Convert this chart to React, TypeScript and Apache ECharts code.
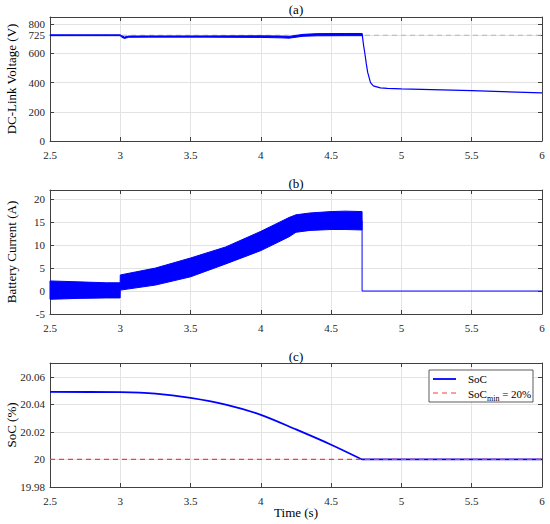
import React, { useEffect, useRef } from "react";
import * as echarts from "echarts";

// ---- data ----
const xTicks = [2.5, 3, 3.5, 4, 4.5, 5, 5.5, 6];
const voltTicks = [0, 200, 400, 600, 725, 800];
const currTicks = [-5, 0, 5, 10, 15, 20];
const socTicks = [19.98, 20, 20.02, 20.04, 20.06];

// (a) DC-link voltage: ripple band before load loss, then decay
const vBandT = [2.5, 3.0, 3.01, 3.03, 3.06, 3.2, 3.6, 4.0, 4.15, 4.2, 4.3, 4.4, 4.6, 4.72];
const vBandUp = [728, 728, 722, 713, 719, 720, 720, 721, 719, 717, 731, 736, 737, 737];
const vBandLo = [722, 722, 711, 703, 711, 712, 712, 710, 707, 705, 718, 721, 722, 722];
const vDropT = [4.72, 4.725, 4.73, 4.74, 4.75, 4.76, 4.78, 4.8, 4.85, 4.9, 5.0, 5.5, 6.0];
const vDrop = [736, 700, 660, 600, 530, 470, 400, 378, 364, 361, 357, 345, 330];
const vRef = 725;

// (b) battery current envelope
const iBandT = [2.5, 2.7, 2.9, 2.999, 3.0, 3.25, 3.5, 3.75, 4.0, 4.1, 4.2, 4.25, 4.35, 4.5, 4.6, 4.72];
const iBandUp = [2.2, 2.0, 1.8, 1.8, 3.5, 5.0, 7.2, 9.6, 13.0, 14.5, 16.0, 16.6, 17.0, 17.3, 17.4, 17.3];
const iBandLo = [-1.8, -1.6, -1.5, -1.5, 0.2, 1.3, 3.1, 5.9, 8.8, 10.3, 11.8, 12.8, 13.2, 13.4, 13.4, 13.3];
const iOffT = [4.72, 4.72, 6.0];
const iOff = [15.3, 0, 0];

// (c) state of charge: discharging part, then held at the minimum
const socT = [2.5, 3.0, 3.25, 3.5, 3.75, 4.0, 4.25, 4.5, 4.72];
const soc = [20.049, 20.0488, 20.0478, 20.0447, 20.0398, 20.0324, 20.0218, 20.0107, 20.0];
const socHoldT = [4.72, 6.0];
const socHold = [20.0, 20.0];
const socMin = 20;

const FONT = '"Liberation Serif", "Times New Roman", serif';
const AXIS = "#404040";
const GRIDC = "#e3e3e3";
const BLUE = "#0000ff";
const RED = "#ff3b3b";

const zip = (a: number[], b: number[]) => a.map((v, i) => [v, b[i]]);

const gridTops = [17, 190, 363];
const GH = 124;

function makeAxes() {
  const xAxis: any[] = [];
  const yAxis: any[] = [];
  const yCfg = [
    { min: 0, max: 850, ticks: voltTicks, name: "DC-Link Voltage (V)" },
    { min: -5, max: 22, ticks: currTicks, name: "Battery Current (A)" },
    { min: 19.98, max: 20.07, ticks: socTicks, name: "SoC (%)" },
  ];
  for (let i = 0; i < 3; i++) {
    xAxis.push({
      type: "value",
      gridIndex: i,
      min: 2.5,
      max: 6,
      interval: 0.5,
      position: "bottom",
      name: i === 2 ? "Time (s)" : "",
      nameLocation: "middle",
      nameGap: 19,
      nameMoveOverlap: false,
      nameTextStyle: { fontFamily: FONT, fontSize: 13, color: "#000" },
      axisLine: { show: true, onZero: false, lineStyle: { color: AXIS, width: 1 } },
      axisTick: { show: true, inside: true, length: 4, lineStyle: { color: AXIS } },
      axisLabel: { show: true, margin: 8, fontFamily: FONT, fontSize: 11, color: "#262626", customValues: xTicks, formatter: (v: number) => String(v) },
      splitLine: { show: true, lineStyle: { color: GRIDC, width: 1 } },
    });
    xAxis.push({
      type: "value",
      gridIndex: i,
      min: 2.5,
      max: 6,
      interval: 0.5,
      position: "top",
      axisLine: { show: true, onZero: false, lineStyle: { color: AXIS, width: 1 } },
      axisTick: { show: true, inside: true, length: 4, lineStyle: { color: AXIS } },
      axisLabel: { show: false },
      splitLine: { show: false },
    });
    const c = yCfg[i];
    yAxis.push({
      type: "value",
      gridIndex: i,
      min: c.min,
      max: c.max,
      position: "left",
      name: c.name,
      nameLocation: "middle",
      nameGap: 32,
      nameMoveOverlap: false,
      nameTextStyle: { fontFamily: FONT, fontSize: 13, color: "#000" },
      axisLine: { show: true, onZero: false, lineStyle: { color: AXIS, width: 1 } },
      axisTick: { show: true, inside: true, length: 4, customValues: c.ticks, lineStyle: { color: AXIS } },
      axisLabel: { show: true, margin: 5, fontFamily: FONT, fontSize: 11, color: "#262626", customValues: c.ticks, formatter: (v: number) => String(Math.round(v * 1000) / 1000) },
      splitLine: { show: true, lineStyle: { color: GRIDC, width: 1 } },
    });
    yAxis.push({
      type: "value",
      gridIndex: i,
      min: c.min,
      max: c.max,
      position: "right",
      axisLine: { show: true, onZero: false, lineStyle: { color: AXIS, width: 1 } },
      axisTick: { show: true, inside: true, length: 4, customValues: c.ticks, lineStyle: { color: AXIS } },
      axisLabel: { show: false, customValues: c.ticks },
      splitLine: { show: false },
    });
  }
  return { xAxis, yAxis };
}

function band(name: string, gi: number, t: number[], up: number[], lo: number[]) {
  return {
    type: "custom",
    name,
    coordinateSystem: "cartesian2d",
    xAxisIndex: gi * 2,
    yAxisIndex: gi * 2,
    data: [[t[0], up[0]]],
    silent: true,
    z: 3,
    renderItem: (_p: any, api: any) => {
      const pts: number[][] = [];
      for (let i = 0; i < t.length; i++) pts.push(api.coord([t[i], up[i]]));
      for (let i = t.length - 1; i >= 0; i--) pts.push(api.coord([t[i], lo[i]]));
      return {
        type: "polygon",
        shape: { points: pts },
        style: { fill: BLUE, stroke: BLUE, lineWidth: 1 },
      };
    },
  };
}

function buildOption() {
  const { xAxis, yAxis } = makeAxes();
  const line = (name: string, data: number[][], gi: number, color: string, width: number, extra: any = {}) => ({
    type: "line",
    name,
    data,
    xAxisIndex: gi * 2,
    yAxisIndex: gi * 2,
    showSymbol: false,
    symbol: "none",
    lineStyle: { color, width },
    itemStyle: { color },
    silent: true,
    ...extra,
  });
  const series: any[] = [
    // (a)
    line("vref", [[2.5, vRef], [6, vRef]], 0, "#b5b5b5", 1, { lineStyle: { color: "#b5b5b5", width: 1, type: [5, 4] }, z: 1 }),
    band("vBand", 0, vBandT, vBandUp, vBandLo),
    line("vDrop", zip(vDropT, vDrop), 0, BLUE, 1.2, { z: 3 }),
    // (b)
    band("iBand", 1, iBandT, iBandUp, iBandLo),
    line("iOff", zip(iOffT, iOff), 1, BLUE, 1, { z: 3 }),
    // (c)
    line("SoC", zip(socT, soc), 2, BLUE, 1.8, { z: 3, smooth: 0.3 }),
    line("SoC hold", zip(socHoldT, socHold), 2, BLUE, 1.8, { z: 3 }),
    line("SoCmin", [[2.5, socMin], [6, socMin]], 2, RED, 1, { lineStyle: { color: RED, width: 1.2, type: [5, 4] }, z: 4 }),
  ];
  const LX = 429, LY = 370, LW = 104, LH = 32;
  return {
    animation: false,
    backgroundColor: "#ffffff",
    grid: gridTops.map((t) => ({ left: 50, width: 492, top: t, height: GH, containLabel: false, outerBoundsMode: "none" })),
    xAxis,
    yAxis,
    series,
    graphic: [
      { type: "text", x: 296, y: 9, style: { text: "(a)", fontFamily: FONT, fontSize: 13, fill: "#000", align: "center", verticalAlign: "middle" } },
      { type: "text", x: 296, y: 183, style: { text: "(b)", fontFamily: FONT, fontSize: 13, fill: "#000", align: "center", verticalAlign: "middle" } },
      { type: "text", x: 296, y: 356, style: { text: "(c)", fontFamily: FONT, fontSize: 13, fill: "#000", align: "center", verticalAlign: "middle" } },
      // legend box
      { type: "rect", z: 100, shape: { x: LX, y: LY, width: LW, height: LH }, style: { fill: "#fff", stroke: "#333", lineWidth: 0.8 } },
      { type: "line", z: 101, shape: { x1: LX + 4, y1: LY + 9, x2: LX + 27, y2: LY + 9 }, style: { stroke: BLUE, lineWidth: 1.8 } },
      { type: "line", z: 101, shape: { x1: LX + 4, y1: LY + 23, x2: LX + 27, y2: LY + 23 }, style: { stroke: RED, lineWidth: 1.2, lineDash: [5, 4] } },
      { type: "text", z: 101, x: LX + 39, y: LY + 9, style: { text: "SoC", fontFamily: FONT, fontSize: 11, fill: "#000", verticalAlign: "middle" } },
      {
        type: "text",
        z: 101,
        x: LX + 39,
        y: LY + 18,
        style: {
          text: "{n|SoC}{s|min}{n| = 20%}",
          fontFamily: FONT,
          fontSize: 11,
          fill: "#000",
          verticalAlign: "top",
          rich: {
            n: { fontFamily: FONT, fontSize: 11, fill: "#000", lineHeight: 12, verticalAlign: "top" },
            s: { fontFamily: FONT, fontSize: 8, fill: "#000", lineHeight: 12, padding: [6, 0, 0, 0], verticalAlign: "top" },
          },
        },
      },
    ],
  };
}

export default function App() {
  const ref = useRef<HTMLDivElement>(null);
  useEffect(() => {
    if (!ref.current) return;
    const chart = echarts.init(ref.current, undefined, { renderer: "svg" });
    chart.setOption(buildOption() as any);
    return () => chart.dispose();
  }, []);
  return <div ref={ref} style={{ position: "fixed", left: 0, top: 0, width: 550, height: 524, background: "#fff" }} />;
}
